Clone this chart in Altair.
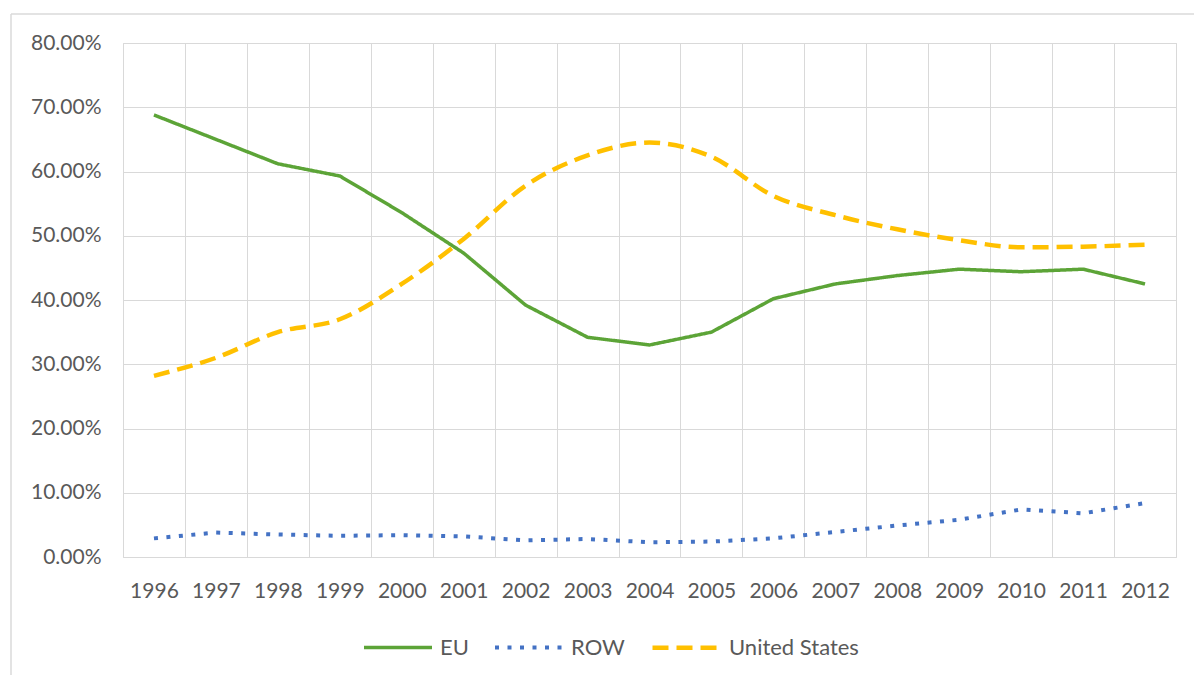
import altair as alt
import pandas as pd

# Share of total by region, in percent
years = [str(y) for y in range(1996, 2013)]
eu = [68.8, 65.0, 61.2, 59.3, 53.6, 47.3, 39.2, 34.2, 33.0, 35.0, 40.2, 42.5, 43.8, 44.8, 44.4, 44.8, 42.5]
row = [2.9, 3.8, 3.5, 3.3, 3.4, 3.2, 2.6, 2.8, 2.3, 2.4, 2.9, 3.9, 4.9, 5.8, 7.4, 6.8, 8.4]
us = [28.2, 31.0, 35.0, 37.0, 42.5, 49.5, 57.8, 62.5, 64.5, 62.3, 56.2, 53.2, 51.0, 49.3, 48.2, 48.3, 48.6]

series_names = ["EU", "ROW", "United States"]
series_colors = ["#5CA437", "#4472C4", "#FFC000"]
series_dash = [[1, 0], [4, 8.5], [16, 8]]
series_width = [3.5, 4.5, 5]
y_ticks = [0, 0.1, 0.2, 0.3, 0.4, 0.5, 0.6, 0.7, 0.8]

frames = []
for name, vals in zip(series_names, [eu, row, us]):
    frames.append(pd.DataFrame({"year": years, "share": [v / 100 for v in vals], "series": name}))
df = pd.concat(frames, ignore_index=True)

TEXT = "#595959"
GRID = "#d9d9d9"
FONT = "Lato"

x_enc = alt.X(
    "year:O",
    bandPosition=0.5,
    scale=alt.Scale(type="band", paddingInner=0, paddingOuter=0),
    axis=alt.Axis(
        title=None, labelAngle=0, grid=True, tickBand="extent", domain=False, ticks=False,
        labelPadding=23, labelFontSize=21, labelFont=FONT, labelColor=TEXT, gridColor=GRID,
    ),
)
y_enc = alt.Y(
    "share:Q",
    scale=alt.Scale(domain=[0, 0.8], nice=False),
    axis=alt.Axis(
        title=None, values=y_ticks, format=".2%", grid=True, domain=False, ticks=False,
        labelPadding=22, labelFontSize=21, labelFont=FONT, labelColor=TEXT, gridColor=GRID,
    ),
)
legend = alt.Legend(
    title=None, orient="none", legendX=239, legendY=568, direction="horizontal",
    symbolType="stroke", symbolSize=4624, labelFontSize=22, labelFont=FONT, labelColor=TEXT,
    labelOffset=6, columnPadding=18, padding=0,
)
color_enc = alt.Color("series:N", scale=alt.Scale(domain=series_names, range=series_colors), legend=legend)
dash_enc = alt.StrokeDash("series:N", scale=alt.Scale(domain=series_names, range=series_dash), legend=legend)
width_enc = alt.StrokeWidth("series:N", scale=alt.Scale(domain=series_names, range=series_width), legend=legend)

base = alt.Chart(df).encode(x=x_enc, y=y_enc, color=color_enc, strokeDash=dash_enc, strokeWidth=width_enc)

straight = base.mark_line(strokeCap="butt").transform_filter(alt.datum.series != "United States")
smooth = base.mark_line(strokeCap="butt", interpolate="monotone").transform_filter(
    alt.datum.series == "United States"
)

# light frame around the chart
frame_top = alt.Chart(alt.Data(values=[{}])).mark_rule(color="#dadada", strokeWidth=1.5).encode(
    x=alt.value(-112), x2=alt.value(1071), y=alt.value(-29)
)
frame_left = alt.Chart(alt.Data(values=[{}])).mark_rule(color="#dadada", strokeWidth=1.5).encode(
    x=alt.value(-112), y=alt.value(-29), y2=alt.value(632)
)

chart = (
    alt.layer(frame_top, frame_left, straight, smooth)
    .properties(
        width=1053, height=514,
        autosize=alt.AutoSizeParams(type="none"),
        padding={"left": 123, "top": 43, "right": 18, "bottom": 118},
        background="white",
    )
    .configure_view(stroke=GRID, strokeWidth=1)
)

chart.save("out.html", embed_options={"renderer": "svg", "actions": False})
